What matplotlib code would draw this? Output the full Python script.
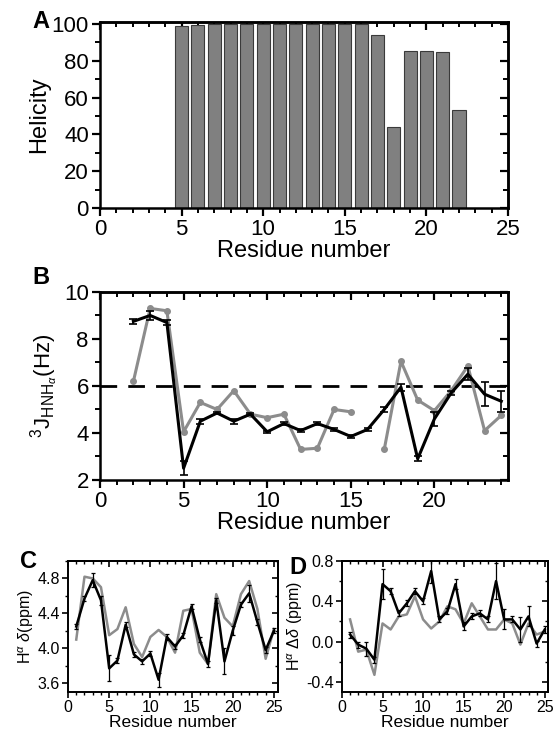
import numpy as np
import matplotlib
matplotlib.use("Agg")
import matplotlib.pyplot as plt
from matplotlib.ticker import MultipleLocator

plt.rcParams['font.family'] = ['Liberation Sans', 'DejaVu Sans']
plt.rcParams['mathtext.fontset'] = 'custom'
plt.rcParams['mathtext.rm'] = 'Liberation Sans'
plt.rcParams['mathtext.it'] = 'Liberation Sans:italic'
plt.rcParams['mathtext.bf'] = 'Liberation Sans:bold'

# panel A: helicity per residue
hel_res = list(range(5, 23))
hel_val = [99, 99.5, 100, 100, 100, 100, 100, 100, 100, 100, 100, 100,
           94, 44, 85.5, 85.3, 84.5, 53]

# panel B: 3J(HN,Ha) coupling constants
j_res = list(range(2, 25))
j_black = [8.75, 9.0, 8.7, 2.5, 4.5, 4.85, 4.5, 4.8, 4.05, 4.4, 4.1, 4.4,
           4.15, 3.85, 4.15, 5.0, 5.95, 2.9, 4.6, 5.7, 6.5, 5.65, 5.35]
j_black_err = [0.1, 0.2, 0.1, 0.3, 0.1, 0.05, 0.1, 0.05, 0.05, 0.05, 0.05, 0.05,
               0.05, 0.05, 0.05, 0.1, 0.15, 0.1, 0.3, 0.1, 0.25, 0.5, 0.45]
j_gray = [6.2, 9.3, 9.2, 4.05, 5.3, 5.0, 5.8, 4.8, 4.65, 4.8, 3.3, 3.35,
          5.0, 4.9, np.nan, 3.3, 7.05, 5.4, 4.95, 5.8, 6.85, 4.1, 4.75]

# panel C: H-alpha chemical shifts
res = list(range(1, 26))
c_black = [4.25, 4.57, 4.78, 4.55, 3.77, 3.86, 4.27, 3.93, 3.85, 3.94, 3.64, 4.13,
           4.02, 4.15, 4.48, 4.1, 3.82, 4.55, 3.85, 4.2, 4.5, 4.63, 4.3, 3.98, 4.2]
c_black_err = [0.03, 0.03, 0.08, 0.05, 0.15, 0.03, 0.03, 0.03, 0.03, 0.03, 0.08, 0.03,
               0.03, 0.03, 0.03, 0.03, 0.03, 0.03, 0.15, 0.05, 0.03, 0.1, 0.03, 0.03, 0.03]
c_gray = [4.1, 4.82, 4.8, 4.7, 4.15, 4.22, 4.47, 4.05, 3.9, 4.13, 4.21, 4.13,
          3.95, 4.43, 4.45, 3.95, 3.82, 4.62, 4.35, 4.25, 4.62, 4.77, 4.45, 3.88, 4.22]

# panel D: H-alpha secondary shifts
d_black = [0.07, -0.03, -0.07, -0.18, 0.57, 0.5, 0.28, 0.38, 0.5, 0.4, 0.7, 0.22,
           0.3, 0.57, 0.15, 0.25, 0.28, 0.22, 0.6, 0.22, 0.22, 0.12, 0.25, -0.02, 0.12]
d_black_err = [0.03, 0.03, 0.07, 0.03, 0.15, 0.03, 0.03, 0.03, 0.03, 0.03, 0.12, 0.03,
               0.03, 0.05, 0.04, 0.03, 0.03, 0.03, 0.18, 0.1, 0.03, 0.12, 0.1, 0.03, 0.03]
d_gray = [0.22, -0.1, -0.08, -0.33, 0.18, 0.12, 0.25, 0.27, 0.45, 0.22, 0.13, 0.2,
          0.35, 0.32, 0.18, 0.38, 0.25, 0.12, 0.12, 0.22, 0.18, -0.03, 0.18, 0.07, 0.1]

GRAY = '#8c8c8c'


def style_axes(ax, xmaj, xmin, ymaj, ymin, labsize, big=True):
    lw = 1.8 if big else 1.4
    for s in ax.spines.values():
        s.set_linewidth(lw)
    ax.xaxis.set_major_locator(MultipleLocator(xmaj))
    ax.xaxis.set_minor_locator(MultipleLocator(xmin))
    ax.yaxis.set_major_locator(MultipleLocator(ymaj))
    ax.yaxis.set_minor_locator(MultipleLocator(ymin))
    L = 6 if big else 4
    ax.tick_params(which='major', direction='out', length=L, width=1.6 if big else 1.2,
                   labelsize=labsize, pad=2)
    ax.tick_params(which='minor', direction='out', length=L * 0.55, width=1.4 if big else 1.0)
    # mirrored ticks on top and right, pointing inwards
    top = ax.secondary_xaxis('top')
    top.xaxis.set_major_locator(MultipleLocator(xmaj))
    top.xaxis.set_minor_locator(MultipleLocator(xmin))
    top.tick_params(which='both', direction='in', labeltop=False)
    top.tick_params(which='major', length=L, width=1.6 if big else 1.2)
    top.tick_params(which='minor', length=L * 0.55, width=1.4 if big else 1.0)
    right = ax.secondary_yaxis('right')
    right.yaxis.set_major_locator(MultipleLocator(ymaj))
    right.yaxis.set_minor_locator(MultipleLocator(ymin))
    right.tick_params(which='both', direction='in', labelright=False)
    right.tick_params(which='major', length=L, width=1.6 if big else 1.2)
    right.tick_params(which='minor', length=L * 0.55, width=1.4 if big else 1.0)
    for sec in (top, right):
        for s in sec.spines.values():
            s.set_linewidth(lw)


fig = plt.figure(figsize=(5.53, 7.29), dpi=100)

# A
axA = fig.add_axes([0.1808, 0.7147, 0.7378, 0.2551])
axA.bar(hel_res, hel_val, width=0.8, color='#808080', edgecolor='#3a3a3a', linewidth=0.8)
axA.set_xlim(0, 25)
axA.set_ylim(0, 101)
style_axes(axA, 5, 1, 20, 10, 16)
axA.set_xlabel('Residue number', fontsize=17, labelpad=0)
axA.set_ylabel('Helicity', fontsize=17, labelpad=1)
fig.text(0.058, 0.970, 'A', fontsize=17, fontweight='bold', va='center')

# B
axB = fig.add_axes([0.1808, 0.3416, 0.7378, 0.2579])
axB.axhline(6, color='black', lw=2, dashes=(6, 4), zorder=1)
axB.plot(j_res, j_gray, color=GRAY, lw=2.2, marker='o', ms=4, zorder=2)
axB.errorbar(j_res, j_black, yerr=j_black_err, color='black', lw=2.2,
             elinewidth=1.2, capsize=3, capthick=1.2, zorder=3)
axB.set_xlim(0, 24.4)
axB.set_ylim(2, 10)
style_axes(axB, 5, 1, 2, 1, 16)
axB.set_xlabel('Residue number', fontsize=17, labelpad=0)
axB.set_ylabel(r'$^{3}\mathrm{J}_{\mathrm{HNH}_{\alpha}}$(Hz)', fontsize=16, labelpad=2)
fig.text(0.058, 0.620, 'B', fontsize=17, fontweight='bold', va='center')

# C
axC = fig.add_axes([0.123, 0.0508, 0.3797, 0.1797])
axC.plot(res, c_gray, color=GRAY, lw=1.8, zorder=2)
axC.errorbar(res, c_black, yerr=c_black_err, color='black', lw=1.8,
             elinewidth=0.9, capsize=1.5, capthick=0.9, zorder=3)
axC.set_xlim(0, 25.5)
axC.set_ylim(3.5, 5.0)
style_axes(axC, 5, 1, 0.4, 0.2, 11.5, big=False)
axC.set_yticks([3.6, 4.0, 4.4, 4.8])
axC.set_xlabel('Residue number', fontsize=12.5, labelpad=0)
axC.set_ylabel(r'H$^{\alpha}$ $\delta$(ppm)', fontsize=11.5, labelpad=1)
fig.text(0.036, 0.230, 'C', fontsize=17, fontweight='bold', va='center')

# D
axD = fig.add_axes([0.6184, 0.0508, 0.3725, 0.1797])
axD.plot(res, d_gray, color=GRAY, lw=1.8, zorder=2)
axD.errorbar(res, d_black, yerr=d_black_err, color='black', lw=1.8,
             elinewidth=0.9, capsize=1.5, capthick=0.9, zorder=3)
axD.set_xlim(0, 25.4)
axD.set_ylim(-0.5, 0.8)
style_axes(axD, 5, 1, 0.4, 0.2, 11.5, big=False)
axD.set_yticks([-0.4, 0.0, 0.4, 0.8])
axD.set_yticklabels(['-0.4', '0.0', '0.4', '0.8'])
axD.set_xlabel('Residue number', fontsize=12.5, labelpad=0)
axD.set_ylabel(r'H$^{\alpha}$ $\Delta\delta$ (ppm)', fontsize=11.5, labelpad=1)
fig.text(0.524, 0.222, 'D', fontsize=17, fontweight='bold', va='center')

fig.savefig('out.png', dpi=100)
